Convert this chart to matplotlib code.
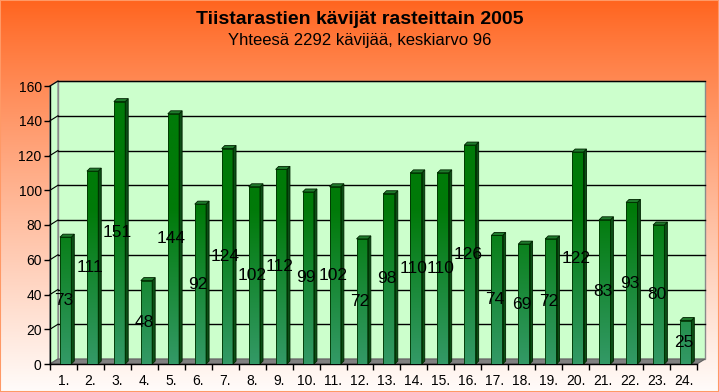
import numpy as np
import matplotlib.pyplot as plt
from matplotlib.patches import Polygon, Rectangle

plt.rcParams['font.family'] = ['Liberation Sans', 'DejaVu Sans']

# data
rastit = [f"{i}." for i in range(1, 25)]
kavijat = [73, 111, 151, 48, 144, 92, 124, 102, 112, 99, 102, 72,
           98, 110, 110, 126, 74, 69, 72, 122, 83, 93, 80, 25]
y_ticks = [0, 20, 40, 60, 80, 100, 120, 140, 160]
title = "Tiistarastien kävijät rasteittain 2005"
subtitle = "Yhteesä 2292 kävijää, keskiarvo 96"

W, H = 719, 392
fig = plt.figure(figsize=(W / 100, H / 100), dpi=100)

# background gradient (orange top -> white bottom)
bg = fig.add_axes([0, 0, 1, 1], zorder=-10)
t = np.linspace(0, 1, 256)[:, None]
top = np.array([255, 100, 30]) / 255
bot = np.array([255, 252, 250]) / 255
mix = np.clip(t ** 0.9, 0, 1)
grad = (top * (1 - mix) + bot * mix)[:, None, :]
bg.imshow(np.repeat(grad, 2, axis=1), aspect='auto', extent=[0, 1, 0, 1])
bg.add_patch(Rectangle((0, 0), 1, 1, fill=False, edgecolor='#ff9966', lw=1.5,
                       transform=bg.transAxes))
bg.set_axis_off()

# front axes: x 50..697 px, y 364 (0) .. 86 (160)
ax = fig.add_axes([50 / W, 28 / H, 647 / W, 278 / H])
ax.set_xlim(0.5, 24.5)
ax.set_ylim(0, 160)
n = len(kavijat)
dx = 8 / (647 / 24)   # depth offset in data units
dy = 5 / (278 / 160)
wall = '#ccffcc'

ax.patch.set_visible(False)
# back wall
ax.add_patch(Rectangle((0.5 + dx, dy), 24, 160, facecolor=wall, edgecolor='#8a8a8a',
                       lw=1, clip_on=False, zorder=0))
# side wall
ax.add_patch(Polygon([(0.5, 0), (0.5 + dx, dy), (0.5 + dx, 160 + dy), (0.5, 160)],
                     closed=True, facecolor=wall, edgecolor='#8a8a8a', lw=1,
                     clip_on=False, zorder=0))
# floor
ax.add_patch(Polygon([(0.5, 0), (24.5, 0), (24.5 + dx, dy), (0.5 + dx, dy)],
                     closed=True, facecolor='#808080', edgecolor='#606060', lw=0.8,
                     clip_on=False, zorder=1))
# gridlines
for v in y_ticks[1:]:
    ax.plot([0.5 + dx, 24.5 + dx], [v + dy, v + dy], color='black', lw=1,
            clip_on=False, zorder=1)
    ax.plot([0.5, 0.5 + dx], [v, v + dy], color='black', lw=0.8,
            clip_on=False, zorder=1)


def bar_color(y):
    c0 = np.array([0x33, 0x99, 0x66]) / 255
    c1 = np.array([0x00, 0x7a, 0x08]) / 255
    f = np.clip(y / 90.0, 0, 1)[:, None]
    return c0 * (1 - f) + c1 * f


bw = 0.42
sx = 3 / (647 / 24)
sy = 3 / (278 / 160)
for i, v in enumerate(kavijat):
    xc = i + 1 + 0.08
    x0, x1 = xc - bw / 2, xc + bw / 2
    ys = np.linspace(v, 0, 64)
    img = bar_color(ys)[:, None, :]
    ax.imshow(np.repeat(img, 2, axis=1), aspect='auto', extent=[x0, x1, 0, v],
              zorder=3, interpolation='bilinear')
    ax.add_patch(Rectangle((x0, 0), bw, v, fill=False, edgecolor='#003300', lw=0.6, zorder=4))
    ax.add_patch(Polygon([(x1, 0), (x1 + sx, sy), (x1 + sx, v + sy), (x1, v)], closed=True,
                         facecolor='#0b4d15', edgecolor='#002200', lw=0.6, zorder=3))
    ax.add_patch(Polygon([(x0, v), (x1, v), (x1 + sx, v + sy), (x0 + sx, v + sy)], closed=True,
                         facecolor='#1f7a2c', edgecolor='#002200', lw=0.6, zorder=3))
    ax.text(xc - 0.08, v / 2, str(v), ha='center', va='center', fontsize=12.5,
            color='black', zorder=6)

ax.set_xticks(np.arange(1, n + 1))
ax.set_xticklabels(rastit, fontsize=10)
ax.set_xticks(np.arange(0.5, n + 1), minor=True)
ax.tick_params(axis='x', which='major', length=0, pad=7)
ax.tick_params(axis='x', which='minor', length=4, width=1, direction='out')
ax.set_yticks(y_ticks)
ax.tick_params(axis='y', labelsize=10, length=4, width=1, pad=2)
for s in ['top', 'right']:
    ax.spines[s].set_visible(False)
ax.spines['left'].set_linewidth(1)
ax.spines['bottom'].set_linewidth(1)
ax.set_xlim(0.5, 24.5)
ax.set_ylim(0, 160)

fig.text(0.5, 1 - 19 / H, title, ha='center', va='center', fontsize=14,
         fontweight='bold')
fig.text(0.5, 1 - 41 / H, subtitle, ha='center', va='center', fontsize=12)

fig.savefig('out.png', dpi=100)
